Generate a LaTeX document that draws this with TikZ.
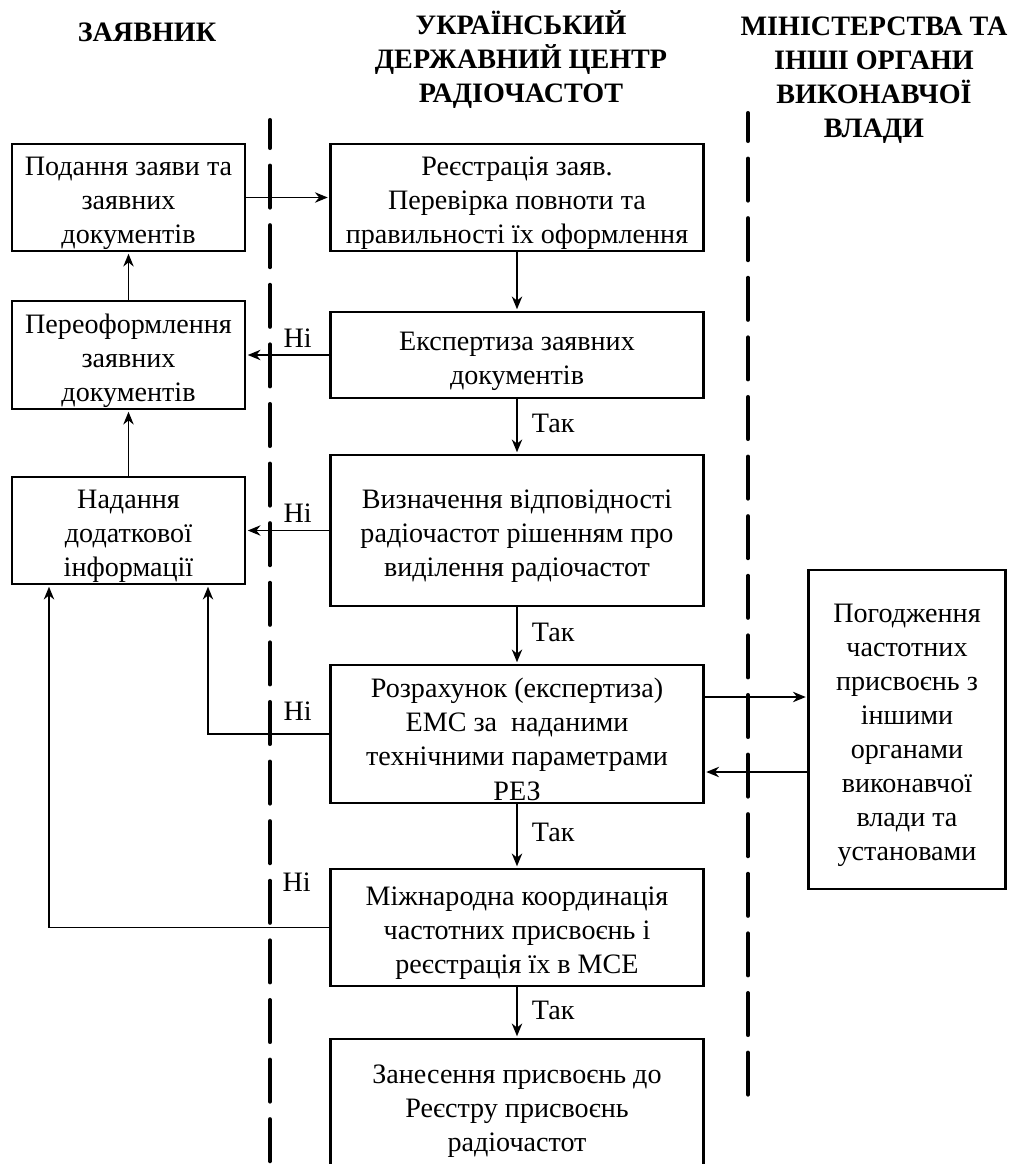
\documentclass[tikz,border=0pt]{standalone}
\usepackage{fontspec}
\setmainfont{Liberation Serif}
\usetikzlibrary{arrows.meta,positioning}

% підпора першого рядка, щоб текст сів нижче
\newcommand{\opora}{\rule{0pt}{21.5pt}}

\begin{document}
\begin{tikzpicture}[shorten >=1pt,on grid,auto,
    >={Stealth[length=3.2mm,width=2.6mm]},
    font=\fontsize{20}{24.2}\selectfont]
  \tikzstyle{blok}=[draw,line width=1.9pt,align=center,inner sep=0pt]
  \tikzstyle{shyrokyi}=[blok,minimum width=9.325cm]
  \tikzstyle{vuzkyi}=[blok,minimum width=5.825cm]
  \tikzstyle{holova}=[font=\fontsize{20}{24.2}\selectfont\bfseries,align=center]
  \tikzstyle{mezha}=[line width=2.9pt,line cap=round,dash pattern=on 1.05cm off 0.44cm,dash phase=0.35cm]
  \tikzstyle{zvjazok}=[->,line width=1.2pt]
  \tikzstyle{napys}=[inner sep=5pt]
  \tikzstyle{tak}=[napys,pos=0.45,xshift=5pt]

  \useasboundingbox (0,0) rectangle (25.375,-29.1);
  \clip (0,0) rectangle (25.375,-29.1);

  % заголовки колонок
  \node[holova] (h_zaiavnyk)     at (3.675,-0.8)   {ЗАЯВНИК};
  \node[holova] (h_tsentr)       at (13.025,-1.5)  {УКРАЇНСЬКИЙ\\ДЕРЖАВНИЙ ЦЕНТР\\РАДІОЧАСТОТ};
  \node[holova] (h_ministerstva) at (21.85,-2.0)   {МІНІСТЕРСТВА ТА\\ІНШІ ОРГАНИ\\ВИКОНАВЧОЇ\\ВЛАДИ};

  % межі колонок
  \draw[mezha] (6.75,-3.0) -- (6.75,-29.5);
  \draw[mezha] (18.7,-2.825) -- (18.7,-27.75);

  \node[shyrokyi,minimum height=2.675cm] (reiestr) at (12.925,-4.9375)
    {\opora Реєстрація заяв.\\Перевірка повноти та\\правильності їх оформлення};
  \node[vuzkyi,minimum height=2.675cm] (podannia) [left=9.7125cm of reiestr]
    {\opora Подання заяви та\\заявних\\документів};
  \node[shyrokyi,minimum height=2.15cm] (ekspert) [below=3.9375cm of reiestr]
    {\opora Експертиза заявних\\документів};
  \node[vuzkyi,minimum height=2.7cm] (pereoform) [left=9.7125cm of ekspert]
    {\opora Переоформлення\\заявних\\документів};
  \node[shyrokyi,minimum height=3.775cm] (vidpovid) [below=4.3875cm of ekspert]
    {\opora Визначення відповідності\\радіочастот рішенням про\\виділення радіочастот};
  \node[vuzkyi,minimum height=2.675cm] (nadannia) [left=9.7125cm of vidpovid]
    {\opora Надання\\додаткової\\інформації};
  \node[shyrokyi,minimum height=3.45cm] (rozrakh) [below=5.0875cm of vidpovid]
    {\opora Розрахунок (експертиза)\\ЕМС за~ наданими\\технічними параметрами\\РЕЗ};
  \node[blok,minimum width=4.925cm,minimum height=7.975cm] (pohodzh) [above right=0.1125cm and 9.75cm of rozrakh]
    {\opora Погодження\\частотних\\присвоєнь з\\іншими\\органами\\виконавчої\\влади та\\установами};
  \node[shyrokyi,minimum height=2.925cm] (mizhnar) [below=4.8375cm of rozrakh]
    {\opora Міжнародна координація\\частотних присвоєнь і\\реєстрація їх в МСЕ};
  \node[shyrokyi,minimum height=3.3cm] (zanesennia) [below=4.4375cm of mizhnar]
    {\opora Занесення присвоєнь до\\Реєстру присвоєнь\\радіочастот};

  \path[zvjazok]
  (podannia)  edge (reiestr)
  (reiestr)   edge (ekspert)
  (ekspert)   edge node[napys,swap,pos=0.38] {Ні} (pereoform)
  (pereoform) edge (podannia)
  (ekspert)   edge node[tak] {Так} (vidpovid)
  (vidpovid)  edge node[napys,swap,pos=0.38] {Ні} (nadannia)
  (nadannia)  edge (pereoform)
  (vidpovid)  edge node[tak] {Так} (rozrakh)
  (rozrakh)   edge node[tak] {Так} (mizhnar)
  (mizhnar)   edge node[tak] {Так} (zanesennia);

  % повернення до заявника
  \coordinate (vkhid_p) at ([xshift=1.9875cm]nadannia.south);
  \coordinate (vkhid_l) at ([xshift=-1.9875cm]nadannia.south);
  \draw[zvjazok] (rozrakh.west) -| node[napys,swap,pos=0.13,yshift=4pt] {Ні} (vkhid_p);
  \draw[zvjazok] (mizhnar.west) -| (vkhid_l);
  \node[napys] (ni_mizhnar) at ([xshift=-0.8125cm,yshift=1.1375cm]mizhnar.west) {Ні};

  % погодження з іншими органами
  \coordinate (r_vykhid) at ([yshift=0.925cm]rozrakh.east);
  \coordinate (r_vkhid) at ([yshift=-0.95cm]rozrakh.east);
  \draw[zvjazok] (r_vykhid) -- (r_vykhid -| pohodzh.west);
  \draw[zvjazok] (r_vkhid -| pohodzh.west) -- (r_vkhid);
\end{tikzpicture}
\end{document}
